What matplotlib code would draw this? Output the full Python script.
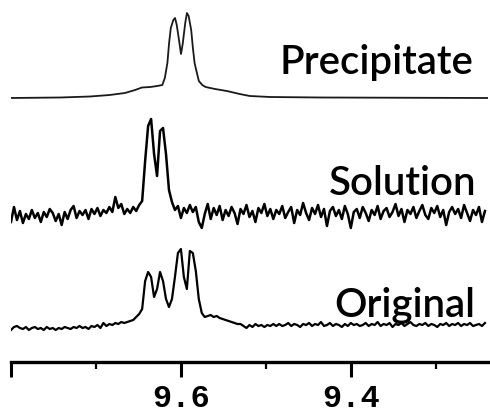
import numpy as np
import matplotlib.pyplot as plt

# chemical shift window (ppm), drawn high -> low
ppm_left, ppm_right = 9.8, 9.2388

# Precipitate: smooth doublet, explicit points
precip_ppm = [9.800, 9.742, 9.707, 9.684, 9.666, 9.654, 9.646, 9.636, 9.628, 9.622,
              9.619, 9.616, 9.614, 9.612, 9.609, 9.607, 9.605, 9.602, 9.600, 9.598,
              9.595, 9.593, 9.591, 9.588, 9.586, 9.584, 9.581, 9.579, 9.575, 9.571,
              9.560, 9.546, 9.531, 9.519, 9.495, 9.436, 9.239]
precip_int = [0, 0.5, 1.5, 3, 5, 8, 10.5, 11, 12, 13,
              20, 35, 55, 70, 78, 80, 73, 56, 44, 54,
              75, 85, 82, 68, 50, 35, 24, 17, 13, 11,
              9, 7, 4, 2, 1, 0.5, 0]

# Solution and Original: 160 points on an even grid
solution_int = [-6, 9, -4, 5, -7, 2, -3, 6, -2, 3,
                -6, 4, -1, 7, 3, -5, 2, -9, 4, -3,
                6, 10, -2, 5, 1, 6, -3, 7, 2, 8,
                0, 6, 3, 9, 4, 19, 8, 12, 2, 7,
                3, 9, 5, 11, 15, 55, 90, 97, 62, 40,
                85, 88, 62, 26, 14, 6, 10, -2, 8, 3,
                11, 4, 9, -6, -12, 2, 12, -3, 8, 1,
                10, -4, 6, 0, 9, 3, -8, 7, 2, 11,
                -1, 5, -6, 8, 3, 12, 0, 7, -3, 6,
                2, 10, -2, 4, 9, -7, 6, 1, 13, 3,
                -4, 8, 2, 11, -1, 7, -10, 5, 9, 0,
                6, -3, 10, 2, -12, 4, 7, -2, 9, 3,
                -5, 6, 1, 10, -3, 5, 8, -1, 4, 12,
                0, 7, -6, 6, 2, 9, -2, 5, 11, 1,
                -3, 8, 3, 10, -1, 6, -9, 4, 9, 2,
                7, -2, 11, 3, -5, 6, 1, 9, -6, 5]
original_int = [-1, 2, 3, 1, 0, 2, -1, 1, 2, 0,
                1, -1, 2, 0, 1, -1, 1, 0, 2, 1,
                0, 2, 1, 3, 1, 2, 0, 3, 2, 4,
                1, 6, 3, 5, 4, 6, 5, 7, 6, 7,
                8, 9, 12, 15, 20, 48, 57, 52, 32, 40,
                57, 48, 30, 22, 30, 52, 76, 80, 52, 40,
                78, 76, 58, 30, 16, 12, 13, 14, 12, 13,
                11, 10, 9, 8, 7, 6, 5, 5, 3, 1,
                4, 2, 5, 3, 4, 2, 4, 3, 5, 3,
                5, 3, 4, 6, 3, 5, 4, 2, 5, 4,
                6, 3, 5, 4, 7, 3, 4, 6, 3, 5,
                4, 2, 5, 3, 6, 4, 5, 3, 4, 6,
                3, 5, 4, 7, 3, 5, 4, 6, 2, 5,
                4, 6, 3, 5, 7, 4, 3, 5, 4, 6,
                3, 5, 4, 2, 5, 4, 6, 3, 5, 4,
                6, 3, 5, 4, 6, 3, 4, 5, 3, 6]
grid_ppm = np.linspace(ppm_left, 9.2424, len(solution_int))

labels = ['Precipitate', 'Solution', 'Original']
offsets = [264, 146, 33]

tick_vals = [9.8, 9.6, 9.4]
tick_labels = ['', '9.6', '9.4']
minor_vals = [9.7, 9.5, 9.3]

fig = plt.figure(figsize=(4.9, 4.14), dpi=100)
ax = fig.add_axes([11 / 490, 51 / 414, 477 / 490, 363 / 414])

ax.plot(precip_ppm, np.array(precip_int) + offsets[0], color='#1a1a1a', lw=1.3)
ax.plot(grid_ppm, np.array(solution_int) + offsets[1], color='black', lw=1.8)
ax.plot(grid_ppm, np.array(original_int) + offsets[2], color='black', lw=1.6)

text_x = [9.2565, 9.253, 9.254]
text_y = [289, 168, 46]
for lab, tx, ty in zip(labels, text_x, text_y):
    ax.text(tx, ty, lab, ha='right', va='baseline', fontsize=29,
            family='Lato', fontweight='semibold')

ax.set_xlim(ppm_left, ppm_right)
ax.set_ylim(0, 363)
for s in ['top', 'left', 'right']:
    ax.spines[s].set_visible(False)
ax.spines['bottom'].set_linewidth(2.4)
ax.set_yticks([])
ax.set_xticks(tick_vals)
ax.set_xticklabels(tick_labels, family='Liberation Mono', fontweight='bold', fontsize=23)
ax.set_xticks(minor_vals, minor=True)
ax.tick_params(axis='x', which='major', direction='out', length=11, width=2.2, pad=4)
ax.tick_params(axis='x', which='minor', direction='out', length=5, width=1.6)

fig.savefig('out.png', dpi=100)
